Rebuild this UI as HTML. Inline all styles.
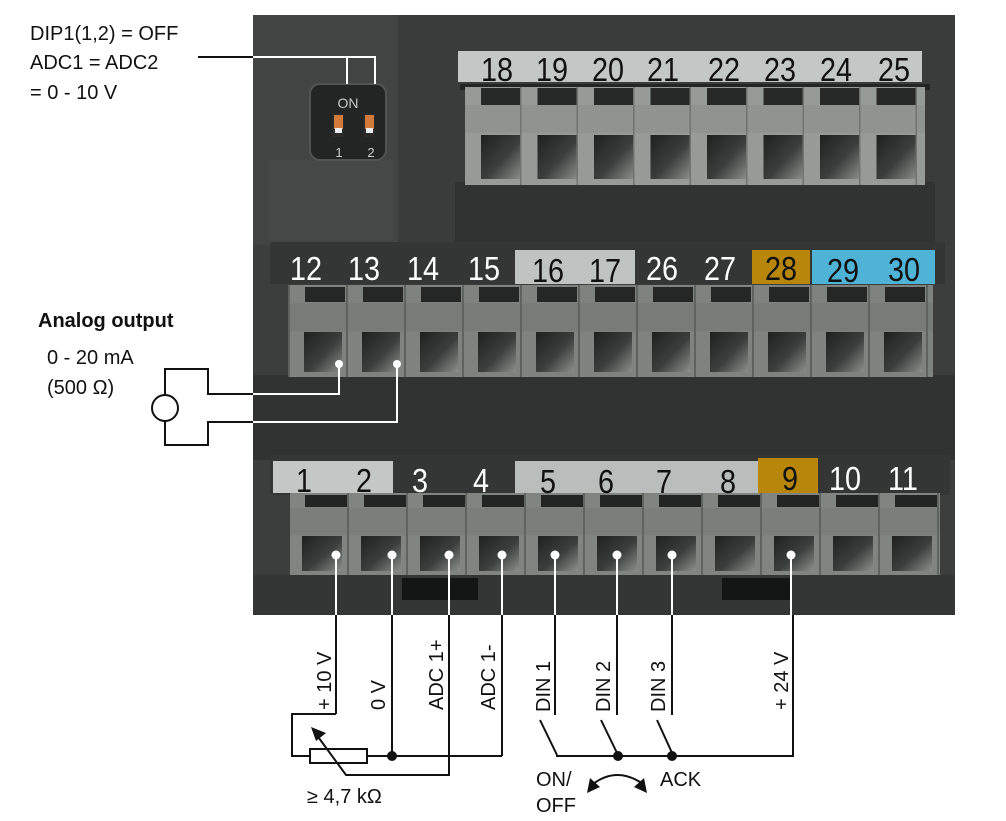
<!DOCTYPE html>
<html><head><meta charset="utf-8"><style>
html,body{margin:0;padding:0;background:#fff;}
svg{display:block;font-family:"Liberation Sans",sans-serif;}
</style></head><body>
<svg width="1006" height="821" viewBox="0 0 1006 821" xmlns="http://www.w3.org/2000/svg">
<defs>
<linearGradient id="hole" x1="0" y1="0" x2="1" y2="1">
<stop offset="0" stop-color="#1e2120"/><stop offset="0.55" stop-color="#3a3e3c"/><stop offset="1" stop-color="#8a8f8c"/>
</linearGradient>
<pattern id="pTop" x="465" y="87" width="56.5" height="98" patternUnits="userSpaceOnUse">
<rect width="56.5" height="98" fill="#969b98"/>
<rect x="16" y="1" width="40" height="17" fill="#262928"/>
<rect x="0" y="18" width="56.5" height="28" fill="#8f9491"/>
<rect x="16" y="48" width="40" height="44" fill="url(#hole)"/>
<rect x="55" y="0" width="1.5" height="98" fill="#6f7471"/>
</pattern>
<pattern id="pMid" x="290" y="285" width="58" height="92" patternUnits="userSpaceOnUse">
<rect width="58" height="92" fill="#7e8380"/>
<rect x="15" y="2" width="40" height="15" fill="#242726"/>
<rect x="0" y="18" width="58" height="28" fill="#777c79"/>
<rect x="14" y="47" width="38" height="40" fill="url(#hole)"/>
<rect x="56" y="0" width="2" height="92" fill="#5e6360"/>
</pattern>
<pattern id="pBot" x="290" y="493" width="59" height="82" patternUnits="userSpaceOnUse">
<rect width="59" height="82" fill="#808582"/>
<rect x="15" y="2" width="42" height="12" fill="#222524"/>
<rect x="0" y="15" width="59" height="27" fill="#7a7f7c"/>
<rect x="12" y="43" width="40" height="35" fill="url(#hole)"/>
<rect x="57" y="0" width="2" height="82" fill="#5f6461"/>
</pattern>
</defs>

<rect x="253" y="15" width="702" height="600" fill="#3b3e3c"/>
<rect x="253" y="15" width="145" height="230" fill="#414442"/>
<rect x="398" y="15" width="557" height="230" fill="#393c3a"/>
<rect x="268" y="160" width="125" height="80" fill="#454846"/>
<rect x="253" y="375" width="702" height="85" fill="#303331"/>
<rect x="253" y="575" width="702" height="40" fill="#333634"/>
<rect x="402" y="578" width="76" height="22" fill="#141615"/>
<rect x="722" y="578" width="70" height="22" fill="#141615"/>
<rect x="455" y="182" width="480" height="60" fill="#303331"/>

<rect x="310" y="84" width="76" height="76" rx="10" fill="#222523" stroke="#505452" stroke-width="2"/>
<text x="348" y="108" font-size="14" fill="#c8c8c8" text-anchor="middle">ON</text>
<rect x="332" y="113" width="12" height="24" fill="#2a2a2a"/>
<rect x="363" y="113" width="12" height="24" fill="#2a2a2a"/>
<rect x="334" y="115" width="9" height="14" fill="#d27a3a"/>
<rect x="365" y="115" width="9" height="14" fill="#d27a3a"/>
<rect x="335" y="128" width="7" height="5" fill="#eee"/>
<rect x="366" y="128" width="7" height="5" fill="#eee"/>
<text x="339" y="157" font-size="13" fill="#ccc" text-anchor="middle">1</text>
<text x="371" y="157" font-size="13" fill="#ccc" text-anchor="middle">2</text>

<rect x="458" y="51" width="464" height="31" fill="#c3c7c5"/>
<rect x="460" y="84" width="470" height="6" fill="#222524"/>
<rect x="465" y="87" width="460" height="98" fill="url(#pTop)"/>
<g font-size="32" fill="#111" text-anchor="middle">
<text transform="translate(497,81) scale(0.9,1.05)">18</text><text transform="translate(552,81) scale(0.9,1.05)">19</text><text transform="translate(608,81) scale(0.9,1.05)">20</text><text transform="translate(663,81) scale(0.9,1.05)">21</text><text transform="translate(724,81) scale(0.9,1.05)">22</text><text transform="translate(780,81) scale(0.9,1.05)">23</text><text transform="translate(836,81) scale(0.9,1.05)">24</text><text transform="translate(894,81) scale(0.9,1.05)">25</text>
</g>

<rect x="270" y="242" width="675" height="42" fill="#333634"/>
<rect x="515" y="250" width="120" height="34" fill="#bfc3c1"/>
<rect x="752" y="250" width="58" height="34" fill="#b8860b"/>
<rect x="812" y="250" width="123" height="34" fill="#4fb3d6"/>
<rect x="288" y="285" width="645" height="92" fill="url(#pMid)"/>
<g font-size="32" text-anchor="middle">
<text transform="translate(306,280) scale(0.9,1.05)" fill="#fff">12</text><text transform="translate(364,280) scale(0.9,1.05)" fill="#fff">13</text><text transform="translate(423,280) scale(0.9,1.05)" fill="#fff">14</text><text transform="translate(484,280) scale(0.9,1.05)" fill="#fff">15</text>
<text transform="translate(548,282) scale(0.9,1.05)" fill="#111">16</text><text transform="translate(605,282) scale(0.9,1.05)" fill="#111">17</text>
<text transform="translate(662,280) scale(0.9,1.05)" fill="#fff">26</text><text transform="translate(720,280) scale(0.9,1.05)" fill="#fff">27</text>
<text transform="translate(781,280) scale(0.9,1.05)" fill="#111">28</text><text transform="translate(843,282) scale(0.9,1.05)" fill="#111">29</text><text transform="translate(904,281) scale(0.9,1.05)" fill="#111">30</text>
</g>

<rect x="270" y="455" width="680" height="40" fill="#333634"/>
<rect x="273" y="461" width="120" height="32" fill="#c3c7c5"/>
<rect x="515" y="461" width="243" height="32" fill="#b9bdbb"/>
<rect x="758" y="458" width="60" height="35" fill="#b8860b"/>
<rect x="290" y="493" width="650" height="82" fill="url(#pBot)"/>
<g font-size="32" text-anchor="middle">
<text transform="translate(304,492) scale(0.9,1.05)" fill="#111">1</text><text transform="translate(364,492) scale(0.9,1.05)" fill="#111">2</text>
<text transform="translate(420,492) scale(0.9,1.05)" fill="#fff">3</text><text transform="translate(481,492) scale(0.9,1.05)" fill="#fff">4</text>
<text transform="translate(548,493) scale(0.9,1.05)" fill="#111">5</text><text transform="translate(606,493) scale(0.9,1.05)" fill="#111">6</text><text transform="translate(664,493) scale(0.9,1.05)" fill="#111">7</text><text transform="translate(728,493) scale(0.9,1.05)" fill="#111">8</text>
<text transform="translate(790,490) scale(0.9,1.05)" fill="#111">9</text><text transform="translate(845,490) scale(0.9,1.05)" fill="#fff">10</text><text transform="translate(903,490) scale(0.9,1.05)" fill="#fff">11</text>
</g>

<g stroke="#fff" stroke-width="2" fill="none">
<polyline points="253,57 375,57 375,84"/><line x1="347" y1="57" x2="347" y2="84"/>
<polyline points="253,394 339,394 339,364"/>
<polyline points="253,422 397,422 397,364"/>
<line x1="336" y1="555" x2="336" y2="615"/><line x1="392" y1="555" x2="392" y2="615"/>
<line x1="449" y1="555" x2="449" y2="615"/><line x1="502" y1="555" x2="502" y2="615"/>
<line x1="555" y1="555" x2="555" y2="615"/><line x1="617" y1="555" x2="617" y2="615"/>
<line x1="672" y1="555" x2="672" y2="615"/><line x1="791" y1="555" x2="791" y2="615"/>
</g>
<g fill="#fff">
<circle cx="339" cy="364" r="4"/><circle cx="397" cy="364" r="4"/>
<circle cx="336" cy="555" r="4.5"/><circle cx="392" cy="555" r="4.5"/><circle cx="449" cy="555" r="4.5"/><circle cx="502" cy="555" r="4.5"/>
<circle cx="555" cy="555" r="4.5"/><circle cx="617" cy="555" r="4.5"/><circle cx="672" cy="555" r="4.5"/><circle cx="791" cy="555" r="4.5"/>
</g>

<g font-size="20" fill="#111">
<text x="30" y="40">DIP1(1,2) = OFF</text>
<text x="30" y="69">ADC1 = ADC2</text>
<text x="30" y="99">= 0 - 10 V</text>
<text x="38" y="327" font-weight="bold">Analog output</text>
<text x="47" y="364">0 - 20 mA</text>
<text x="47" y="394">(500 Ω)</text>
</g>
<g stroke="#111" stroke-width="2" fill="none">
<line x1="198" y1="57" x2="253" y2="57"/>
<circle cx="165" cy="408" r="13"/>
<polyline points="165,395 165,369 208,369 208,394 253,394"/>
<polyline points="165,421 165,445 208,445 208,422 253,422"/>
</g>

<g stroke="#111" stroke-width="2" fill="none">
<line x1="336" y1="615" x2="336" y2="714"/>
<polyline points="336,714 292,714 292,756 310,756"/>
<rect x="310" y="749" width="57" height="14"/>
<line x1="367" y1="756" x2="502" y2="756"/>
<line x1="392" y1="615" x2="392" y2="756"/>
<line x1="502" y1="615" x2="502" y2="756"/>
<polyline points="449,615 449,775 346,775 316,734"/>
<line x1="555" y1="615" x2="555" y2="715"/>
<line x1="617" y1="615" x2="617" y2="715"/>
<line x1="672" y1="615" x2="672" y2="715"/>
<line x1="540" y1="720" x2="557" y2="755"/>
<line x1="601" y1="720" x2="618" y2="755"/>
<line x1="657" y1="720" x2="673" y2="755"/>
<polyline points="557,755 557,756 793,756 793,615"/>
<path d="M 593 784 Q 617 766 643 784"/>
</g>
<polygon points="311,727 326,733 316,741" fill="#111"/>
<polygon points="587,793 590,778 600,787" fill="#111"/>
<polygon points="647,793 644,778 634,787" fill="#111"/>
<circle cx="392" cy="756" r="5" fill="#111"/>
<circle cx="618" cy="756" r="5" fill="#111"/>
<circle cx="672" cy="756" r="5" fill="#111"/>
<g font-size="20" fill="#111">
<text x="307" y="803">≥ 4,7 kΩ</text>
<text x="536" y="786">ON/</text>
<text x="536" y="812">OFF</text>
<text x="660" y="786">ACK</text>
</g>
<g font-size="20" fill="#111">
<text transform="translate(331,710) rotate(-90)">+ 10 V</text>
<text transform="translate(385,710) rotate(-90)">0 V</text>
<text transform="translate(443,710) rotate(-90)">ADC 1+</text>
<text transform="translate(495,710) rotate(-90)">ADC 1-</text>
<text transform="translate(550,712) rotate(-90)">DIN 1</text>
<text transform="translate(610,712) rotate(-90)">DIN 2</text>
<text transform="translate(665,712) rotate(-90)">DIN 3</text>
<text transform="translate(788,710) rotate(-90)">+ 24 V</text>
</g>
</svg>
</body></html>
